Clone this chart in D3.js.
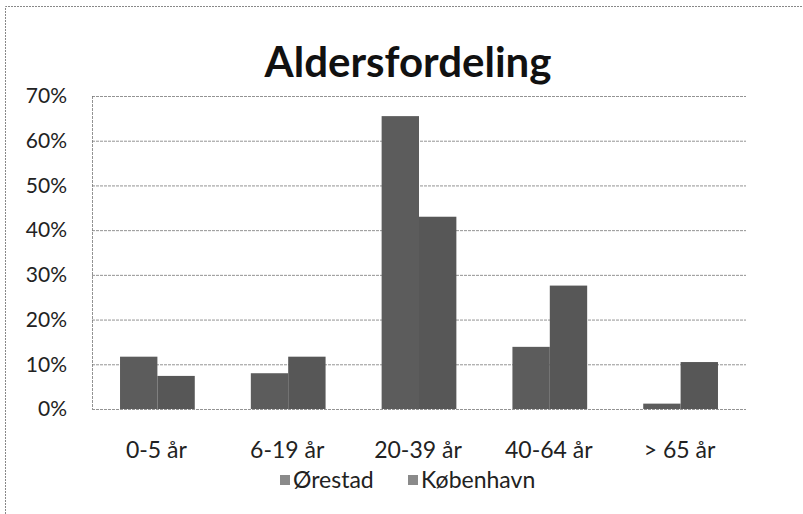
<!DOCTYPE html>
<html lang="da">
<head>
  <meta charset="UTF-8">
  <title>Aldersfordeling</title>
  <script src="https://d3js.org/d3.v7.min.js"></script>
  <style>
    body {
      margin: 0;
      background: #fff;
      font-family: Lato, "Open Sans", sans-serif;
    }
    svg {
      display: block;
    }
  </style>
</head>
<body>
  <svg width="803" height="514"></svg>

  <script>
    const categories = ["0-5 år", "6-19 år", "20-39 år", "40-64 år", "> 65 år"];
    const seriesNames = ["Ørestad", "København"];
    const orestad = [0.117, 0.08, 0.655, 0.139, 0.012];
    const kobenhavn = [0.074, 0.117, 0.43, 0.276, 0.105];
    const yTicks = [0, 0.1, 0.2, 0.3, 0.4, 0.5, 0.6, 0.7];

    const svg = d3.select("svg");
    const width = 803;
    const plot = { left: 92, right: 746, top: 96, bottom: 409 };

    // frame of the scanned chart
    svg.append("path")
      .attr("d", "M5.5,514 V6.5 H803")
      .attr("fill", "none")
      .attr("stroke", "#888")
      .attr("stroke-width", 1)
      .attr("stroke-dasharray", "2,1");

    svg.append("text")
      .attr("x", 408)
      .attr("y", 77)
      .attr("text-anchor", "middle")
      .attr("font-size", 42)
      .attr("font-weight", "bold")
      .attr("fill", "#111")
      .text("Aldersfordeling");

    const x = d3.scaleBand()
      .domain(categories)
      .range([plot.left, plot.right]);

    const xs = d3.scaleBand()
      .domain(seriesNames)
      .range([0, x.bandwidth()])
      .paddingOuter(0.75);

    const y = d3.scaleLinear()
      .domain([0, 0.7])
      .range([plot.bottom, plot.top]);

    // gridlines
    svg.append("g")
      .attr("transform", `translate(${plot.left},0)`)
      .call(d3.axisLeft(y).tickValues(yTicks).tickSize(-(plot.right - plot.left)).tickFormat(""))
      .call(g => g.select(".domain").remove())
      .call(g => g.selectAll("line")
        .attr("stroke", "#777")
        .attr("stroke-width", 0.8)
        .attr("stroke-dasharray", "3,1"));

    // left plot border
    svg.append("line")
      .attr("x1", plot.left + 0.5).attr("x2", plot.left + 0.5)
      .attr("y1", y(0.7)).attr("y2", y(0))
      .attr("stroke", "#777")
      .attr("stroke-width", 0.8)
      .attr("stroke-dasharray", "3,1");

    // y labels
    svg.append("g")
      .selectAll("text")
      .data(yTicks)
      .join("text")
      .attr("x", 67)
      .attr("y", d => y(d))
      .attr("dy", "0.35em")
      .attr("text-anchor", "end")
      .attr("font-size", 21)
      .attr("fill", "#222")
      .text(d => d3.format(".0%")(d));

    const rows = categories.map((c, i) => ({
      cat: c,
      values: [
        { name: "Ørestad", value: orestad[i] },
        { name: "København", value: kobenhavn[i] }
      ]
    }));

    const colors = { "Ørestad": "#5c5c5c", "København": "#575757" };

    svg.append("g")
      .selectAll("g")
      .data(rows)
      .join("g")
      .attr("transform", d => `translate(${x(d.cat)},0)`)
      .selectAll("rect")
      .data(d => d.values)
      .join("rect")
      .attr("x", d => xs(d.name))
      .attr("width", xs.bandwidth())
      .attr("y", d => y(d.value))
      .attr("height", d => y(0) - y(d.value))
      .attr("fill", d => colors[d.name]);

    // x labels
    svg.append("g")
      .selectAll("text")
      .data(categories)
      .join("text")
      .attr("x", d => x(d) + x.bandwidth() / 2 - 1)
      .attr("y", 458)
      .attr("text-anchor", "middle")
      .attr("font-size", 23)
      .attr("fill", "#222")
      .text(d => d);

    // legend
    const legendItems = [
      { name: "Ørestad", x: 280 },
      { name: "København", x: 408 }
    ];
    const legend = svg.append("g");
    legend.selectAll("rect")
      .data(legendItems)
      .join("rect")
      .attr("x", d => d.x)
      .attr("y", 475)
      .attr("width", 10)
      .attr("height", 10)
      .attr("fill", "#8a8a8a");
    legend.selectAll("text")
      .data(legendItems)
      .join("text")
      .attr("x", d => d.x + 13)
      .attr("y", 488)
      .attr("font-size", 23)
      .attr("fill", "#222")
      .text(d => d.name);
  </script>
</body>
</html>
